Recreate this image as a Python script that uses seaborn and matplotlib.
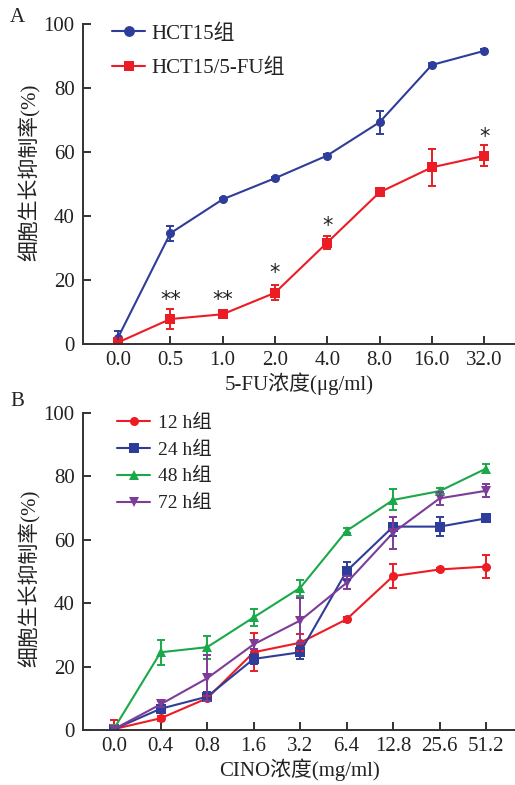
import numpy as np
import pandas as pd
import matplotlib
matplotlib.use("Agg")
import matplotlib.pyplot as plt
import seaborn as sns

# ---------------- data ----------------
dose_a = ["0.0", "0.5", "1.0", "2.0", "4.0", "8.0", "16.0", "32.0"]
hct15 = [2.0, 34.6, 45.2, 51.8, 58.9, 69.3, 87.2, 91.6]
hct15_err = [2.0, 2.4, 0.5, 0.5, 0.5, 3.6, 0.5, 0.5]
hct15fu = [0.5, 7.8, 9.3, 16.0, 31.7, 47.4, 55.2, 58.8]
hct15fu_err = [0.5, 3.0, 1.3, 2.4, 2.0, 0.5, 5.8, 3.3]
sig_a = ["", "**", "**", "*", "*", "", "", "*"]
sig_a_y = [0, 13.6, 13.6, 22.3, 36.9, 0, 0, 64.8]
labels_a = ["HCT15组", "HCT15/5-FU组"]

dose_b = ["0.0", "0.4", "0.8", "1.6", "3.2", "6.4", "12.8", "25.6", "51.2"]
h12 = [0.3, 3.7, 10.0, 24.5, 27.5, 34.9, 48.5, 50.6, 51.5]
h12_err = [2.8, 0.8, 0.8, 6.0, 2.7, 0.8, 3.8, 0.5, 3.7]
h24 = [0.3, 6.7, 10.5, 22.4, 24.5, 50.1, 64.1, 64.1, 66.7]
h24_err = [1.0, 1.0, 1.5, 1.5, 2.0, 2.9, 2.9, 2.9, 1.3]
h48 = [0.5, 24.5, 26.1, 35.5, 44.8, 62.8, 72.5, 75.3, 82.4]
h48_err = [1.0, 4.0, 3.6, 2.6, 2.5, 0.8, 3.3, 1.0, 1.3]
h72 = [0.3, 8.1, 16.3, 27.0, 34.5, 46.4, 62.2, 73.0, 75.4]
h72_err = [1.0, 1.0, 7.3, 1.5, 7.0, 2.0, 5.0, 2.0, 2.0]
labels_b = ["12 h组", "24 h组", "48 h组", "72 h组"]

ylabel = "细胞生长抑制率(%)"
xlabel_a = "5-FU浓度(μg/ml)"
xlabel_b = "CINO浓度(mg/ml)"

# ---------------- style ----------------
sns.set_style("ticks")
FAM = ["Liberation Serif", "Noto Sans CJK SC", "DejaVu Sans"]
plt.rcParams["font.family"] = FAM
plt.rcParams["axes.unicode_minus"] = False
TXT = "#222222"
AX = "#333333"

BLUE = "#2E3D9A"
RED = "#EC1C24"
GREEN = "#1BA84A"
PURPLE = "#7D3C98"

fig = plt.figure(figsize=(5.15, 7.85), dpi=100)
W, H = 515, 785
axA = fig.add_axes([83 / W, 1 - 344 / H, (515 - 83) / W, (344 - 24) / H])
axB = fig.add_axes([83 / W, 1 - 730 / H, (515 - 83) / W, (730 - 412.7) / H])


def style_axis(ax, ticklabels):
    sns.despine(ax=ax)
    for s in ["left", "bottom"]:
        ax.spines[s].set_color(AX)
        ax.spines[s].set_linewidth(1.4)
    ax.set_ylim(0, 100)
    ax.set_yticks([0, 20, 40, 60, 80, 100])
    ax.set_xticks(range(len(ticklabels)))
    ax.set_xticklabels(ticklabels)
    ax.tick_params(direction="in", length=6, width=1.4, color=AX,
                   labelsize=15, labelcolor=TXT)
    ax.tick_params(axis="y", pad=6)
    ax.tick_params(axis="x", pad=5)
    ax.set_ylabel(ylabel, fontsize=15, color=TXT)


# ---------------- panel A ----------------
dfA = pd.DataFrame({
    "x": list(range(len(dose_a))) * 2,
    "y": hct15 + hct15fu,
    "err": hct15_err + hct15fu_err,
    "group": [labels_a[0]] * len(dose_a) + [labels_a[1]] * len(dose_a),
})
palA = {labels_a[0]: BLUE, labels_a[1]: RED}
sns.lineplot(data=dfA, x="x", y="y", hue="group", style="group",
             palette=palA, markers={labels_a[0]: "o", labels_a[1]: "s"},
             dashes=False, markersize=6.5, markeredgewidth=0, linewidth=1.5,
             ax=axA, legend=True)
for g in labels_a:
    d = dfA[dfA.group == g]
    axA.errorbar(d.x, d.y, yerr=d.err, fmt="none", ecolor=palA[g],
                 elinewidth=1.4, capsize=3, capthick=1.4)
for i, (s, yy) in enumerate(zip(sig_a, sig_a_y)):
    if s:
        axA.text(i, yy, s, ha="center", va="center", fontsize=15, color=TXT,
                 fontfamily="DejaVu Sans")
style_axis(axA, dose_a)
axA.set_xlim(-0.67, 7.59)
axA.set_xlabel(xlabel_a, fontsize=15, color=TXT, labelpad=2)
axA.yaxis.set_label_coords((41 - 83) / 432, (344 - 172) / 320)
h, l = axA.get_legend_handles_labels()
axA.legend(h, l, loc="upper left", bbox_to_anchor=(112 / W, 1 - 24 / H),
           bbox_transform=fig.transFigure, frameon=False, fontsize=15,
           handlelength=1.6, handletextpad=0.3, labelspacing=0.72,
           borderpad=0, borderaxespad=0, labelcolor=TXT, markerscale=1.2)

# ---------------- panel B ----------------
nb = len(dose_b)
dfB = pd.DataFrame({
    "x": list(range(nb)) * 4,
    "y": h12 + h24 + h48 + h72,
    "err": h12_err + h24_err + h48_err + h72_err,
    "group": sum([[g] * nb for g in labels_b], []),
})
palB = dict(zip(labels_b, [RED, BLUE, GREEN, PURPLE]))
mkB = dict(zip(labels_b, ["o", "s", "^", "v"]))
sns.lineplot(data=dfB, x="x", y="y", hue="group", style="group",
             palette=palB, markers=mkB, dashes=False, markersize=6.5,
             markeredgewidth=0, linewidth=1.5, ax=axB, legend=True)
for g in labels_b:
    d = dfB[dfB.group == g]
    axB.errorbar(d.x, d.y, yerr=d.err, fmt="none", ecolor=palB[g],
                 elinewidth=1.4, capsize=3, capthick=1.4)
style_axis(axB, dose_b)
axB.set_xlim(-0.67, 8.62)
axB.set_xlabel(xlabel_b, fontsize=15, color=TXT, labelpad=2)
axB.yaxis.set_label_coords((41 - 83) / 432, (730 - 578) / 317.3)
h, l = axB.get_legend_handles_labels()
axB.legend(h, l, loc="upper left", bbox_to_anchor=(117 / W, 1 - 414 / H),
           bbox_transform=fig.transFigure, frameon=False, fontsize=14,
           handlelength=1.7, handletextpad=0.4, labelspacing=0.48,
           borderpad=0, borderaxespad=0, labelcolor=TXT)

# panel letters
fig.text(10 / W, 1 - 18 / H, "A", fontsize=15, color=TXT, va="center")
fig.text(10 / W, 1 - 402 / H, "B", fontsize=15, color=TXT, va="center")

fig.savefig("out.png", dpi=100)
